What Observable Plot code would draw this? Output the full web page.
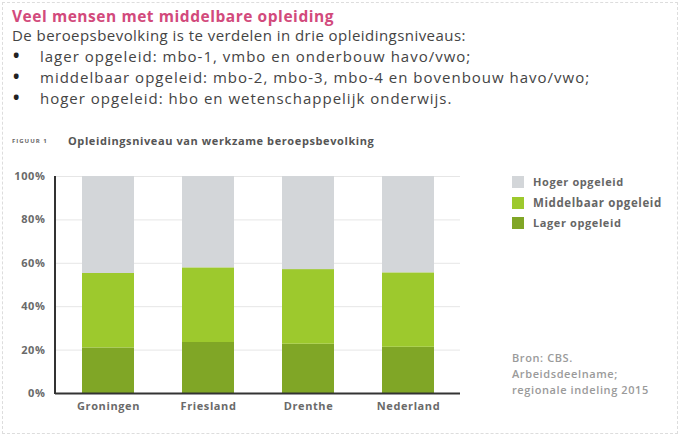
<!DOCTYPE html>
<html><head><meta charset="utf-8">
<script src="https://cdn.jsdelivr.net/npm/d3@7"></script>
<script src="https://cdn.jsdelivr.net/npm/@observablehq/plot@0.6"></script>
<style>
html,body{margin:0;padding:0;background:#fff;}
#wrap{position:relative;width:680px;height:436px;overflow:hidden;font-family:"Open Sans",sans-serif;}
.abs{position:absolute;white-space:nowrap;}
#title{left:12px;top:5px;font-size:15.5px;font-weight:700;color:#d24a7c;letter-spacing:0.55px;}
.body{font-size:15px;color:#444;}
.bl{letter-spacing:1px;}
.bullet{left:13px;font-size:17px;font-weight:700;color:#222;}
#fig{left:12px;top:137px;font-size:6px;font-weight:700;color:#666;letter-spacing:1px;}
#figt{left:68px;top:133px;font-size:11px;font-weight:700;color:#555;letter-spacing:0.6px;}
.leg{left:512px;font-size:11px;font-weight:700;color:#666;letter-spacing:0.6px;}
.sw{display:inline-block;width:12px;height:12px;vertical-align:-2px;margin-right:9px;}
.src{left:512px;font-size:11px;font-weight:600;color:#9a9a9a;letter-spacing:0.6px;}
#border{position:absolute;left:2px;top:2px;width:674px;height:430px;border:1px dashed #ddd;}
#chart{position:absolute;left:0;top:160px;}
</style></head>
<body><div id="wrap">
<div id="border"></div>
<div id="title" class="abs">Veel mensen met middelbare opleiding</div>
<div class="abs body" style="left:12px;top:25px;letter-spacing:0.45px;">De beroepsbevolking is te verdelen in drie opleidingsniveaus:</div>
<div class="abs bullet" style="top:44px;">•</div>
<div class="abs body bl" style="left:40px;top:46px;">lager opgeleid: mbo-1, vmbo en onderbouw havo/vwo;</div>
<div class="abs bullet" style="top:65px;">•</div>
<div class="abs body bl" style="left:40px;top:67px;">middelbaar opgeleid: mbo-2, mbo-3, mbo-4 en bovenbouw havo/vwo;</div>
<div class="abs bullet" style="top:86px;">•</div>
<div class="abs body bl" style="left:40px;top:88px;">hoger opgeleid: hbo en wetenschappelijk onderwijs.</div>
<div id="fig" class="abs">FIGUUR 1</div>
<div id="figt" class="abs">Opleidingsniveau van werkzame beroepsbevolking</div>
<div id="chart"></div>
<div id="legend"></div>
<div class="abs src" style="top:350px;">Bron: CBS.</div>
<div class="abs src" style="top:366px;">Arbeidsdeelname;</div>
<div class="abs src" style="top:382px;">regionale indeling 2015</div>
</div>
<script>
const regions = ["Groningen", "Friesland", "Drenthe", "Nederland"];
const series = ["Lager opgeleid", "Middelbaar opgeleid", "Hoger opgeleid"];
const lager = [21, 23.5, 22.7, 21.3];
const middelbaar = [34.3, 34.4, 34.4, 34.3];
const hoger = [44.7, 42.1, 42.9, 44.4];
const colors = ["#80a626", "#9dc92d", "#d3d6d9"];
const yTicks = [0, 20, 40, 60, 80, 100];

const values = [lager, middelbaar, hoger];
const data = [];
series.forEach((s, si) => regions.forEach((r, ri) => data.push({region: r, series: s, value: values[si][ri]})));

const chart = Plot.plot({
  width: 480, height: 260,
  marginLeft: 55, marginRight: 20, marginTop: 16, marginBottom: 27,
  style: {fontFamily: "Open Sans, sans-serif", fontSize: "11px", fontWeight: 700, color: "#6a6a6a", background: "transparent", letterSpacing: "0.6px"},
  x: {domain: regions, paddingInner: 0.485, paddingOuter: 0.25, label: null},
  y: {domain: [0, 100], label: null},
  color: {domain: series, range: colors},
  marks: [
    Plot.gridY(yTicks, {stroke: "#e6e6e6", strokeOpacity: 1}),
    Plot.barY(data, {x: "region", y: "value", fill: "series", order: series}),
    Plot.ruleY([0], {stroke: "#333", strokeWidth: 2}),
    Plot.axisX({tickSize: 0, tickPadding: 9}),
    Plot.axisY({ticks: yTicks, tickSize: 0, tickPadding: 10, tickFormat: d => d + "%", label: null})
  ]
});
document.getElementById("chart").appendChild(chart);
// y axis line
d3.select(chart).append("line")
  .attr("x1", 55).attr("x2", 55).attr("y1", 16).attr("y2", 234)
  .attr("stroke", "#333").attr("stroke-width", 2);

const legOrder = [2, 1, 0];
const legTops = [174, 195, 215];
const leg = document.getElementById("legend");
legOrder.forEach((i, k) => {
  const d = document.createElement("div");
  d.className = "abs leg";
  d.style.top = legTops[k] + "px";
  if (i === 1) d.style.fontSize = "11.5px";
  d.innerHTML = `<span class="sw" style="background:${colors[i]}"></span>${series[i]}`;
  leg.appendChild(d);
});
</script>
</body></html>
